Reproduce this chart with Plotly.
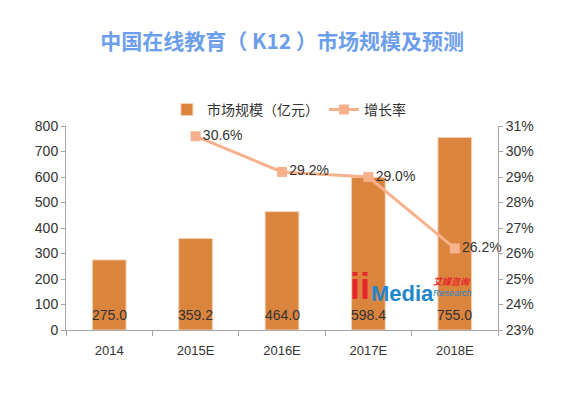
import plotly.graph_objects as go

categories = ["2014", "2015E", "2016E", "2017E", "2018E"]
market_size = [275.0, 359.2, 464.0, 598.4, 755.0]
growth_rate = [None, 30.6, 29.2, 29.0, 26.2]

title_text = "中国在线教育（ K12 ）市场规模及预测"
bar_name = "市场规模（亿元）"
line_name = "增长率"

BAR_COLOR = "#DB843D"
LINE_COLOR = "#F7B18C"
CJK = "Noto Sans CJK SC"
NUM = "Liberation Sans"

fig = go.Figure()
fig.add_trace(go.Bar(
    x=categories, y=market_size, name=bar_name,
    marker=dict(color=BAR_COLOR, line=dict(color="#F3D2B5", width=1)),
    width=0.39,
    cliponaxis=False,
))
fig.add_trace(go.Scatter(
    x=categories, y=growth_rate, name=line_name, yaxis="y2",
    mode="lines+markers+text",
    line=dict(color=LINE_COLOR, width=3),
    marker=dict(symbol="square", size=10, color=LINE_COLOR),
    text=[None if v is None else f"{v:.1f}%" for v in growth_rate],
    textposition="middle right",
    textfont=dict(family=NUM, size=14, color="#333333"),
    cliponaxis=False,
))

# bar value labels near the bottom of each bar (x = category index)
for i, v in enumerate(market_size):
    fig.add_annotation(xref="x", yref="y", x=i, y=0, yanchor="bottom", yshift=5,
                       showarrow=False, text=f"{v:.1f}",
                       font=dict(family=NUM, size=14, color="#333333"))

fig.update_layout(
    width=556, height=386,
    margin=dict(l=58, r=66, t=118, b=64, autoexpand=False),
    paper_bgcolor="white", plot_bgcolor="white",
    title=dict(text="<b>" + title_text + "</b>", x=0.493, xanchor="center",
               yref="container", y=0.912, yanchor="middle",
               font=dict(family=CJK, size=21, color="#6D9EEB")),
    showlegend=True,
    legend=dict(orientation="h", x=0.516, xanchor="center",
                yref="container", y=0.736, yanchor="middle",
                font=dict(family=CJK, size=14, color="#333333"),
                itemwidth=30, traceorder="normal", bgcolor="rgba(0,0,0,0)"),
    xaxis=dict(type="category", categoryorder="array", categoryarray=categories,
               showline=True, linecolor="#A6A6A6", linewidth=1,
               ticks="outside", tickson="boundaries", ticklen=5, tickcolor="#A6A6A6",
               ticklabelstandoff=8,
               tickfont=dict(family=NUM, size=13, color="#333333"), showgrid=False),
    yaxis=dict(range=[0, 800], dtick=100, showline=True, linecolor="#A6A6A6", linewidth=1,
               ticks="outside", ticklen=4, tickcolor="#A6A6A6", showgrid=False, zeroline=False,
               tickfont=dict(family=NUM, size=14, color="#333333")),
    yaxis2=dict(range=[23, 31], dtick=1, overlaying="y", side="right", ticksuffix="%",
                showline=True, linecolor="#A6A6A6", linewidth=1,
                ticks="outside", ticklen=4, tickcolor="#A6A6A6", showgrid=False, zeroline=False,
                tickfont=dict(family=NUM, size=14, color="#333333")),
)

# watermark logo
fig.add_annotation(xref="x", yref="y", x=2.9, y=172, xanchor="center", yanchor="middle", showarrow=False,
                   text="<b>ii</b>", font=dict(family="Liberation Sans", size=36, color="#E8262A"))
fig.add_annotation(xref="x", yref="y", x=3.39, y=145, xanchor="center", yanchor="middle", showarrow=False,
                   text="<b>Media</b>", font=dict(family="Liberation Sans", size=22, color="#1F86CC"))
fig.add_annotation(xref="x", yref="y", x=3.97, y=192, xanchor="center", yanchor="middle", showarrow=False,
                   text="<b><i>艾媒咨询</i></b>", font=dict(family=CJK, size=9, color="#E8262A"))
fig.add_annotation(xref="x", yref="y", x=3.97, y=145, xanchor="center", yanchor="middle", showarrow=False,
                   text="<i>Research</i>", font=dict(family="Liberation Sans", size=9, color="#1F86CC"))

fig.write_html("out.html")
